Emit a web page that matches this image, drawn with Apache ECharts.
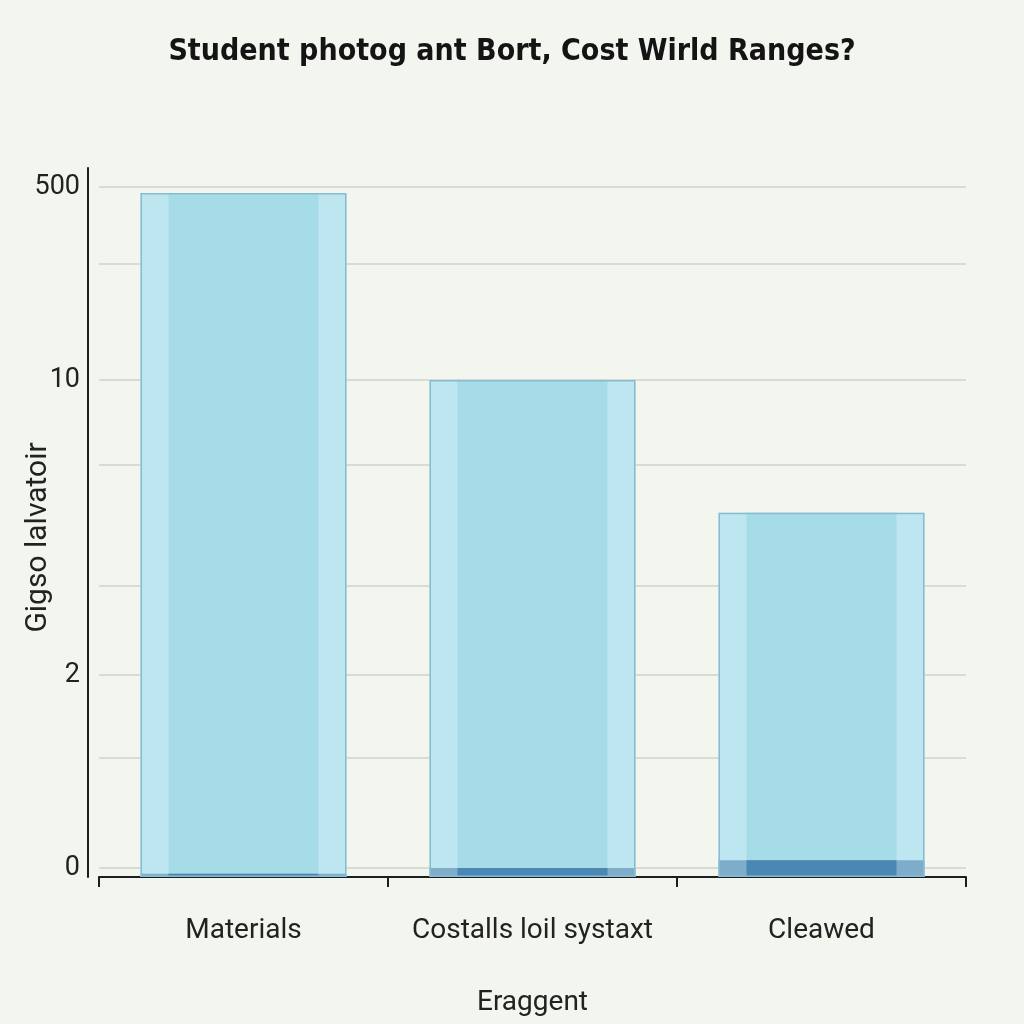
<!DOCTYPE html>
<html>
<head>
<meta charset="utf-8">
<script src="https://cdn.jsdelivr.net/npm/echarts@6/dist/echarts.min.js"></script>
<style>
html,body{margin:0;padding:0;background:#f2f6ee;}
#chart{width:1024px;height:1024px;}
</style>
</head>
<body>
<div id="chart"></div>
<script>
// ---- data ----
const categories = ['Materials', 'Costalls loil systaxt', 'Cleawed'];
const totalValues = [485, 10, 6.4];       // bar tops, in axis value units
const baseValues = [-0.06, 0, 0.08];      // dark base segment tops
const tickValues = [0, 2, 10, 500];       // labelled y ticks
const titleText = 'Student photog ant Bort, Cost Wirld Ranges?';
const yName = 'Gigso lalvatoir';
const xName = 'Eraggent';

// ---- irregular (piecewise) y scale: axis levels for each labelled tick ----
const tickLevels = [9, 202, 497, 690];
const minorGridLevels = [119, 291, 412, 613];
function toLevel(v) {
  let i = 0;
  while (i < tickValues.length - 2 && v > tickValues[i + 1]) i++;
  const v0 = tickValues[i], v1 = tickValues[i + 1];
  const l0 = tickLevels[i], l1 = tickLevels[i + 1];
  return l0 + (v - v0) / (v1 - v0) * (l1 - l0);
}
function labelFor(level) {
  const idx = tickLevels.indexOf(level);
  return idx >= 0 ? String(tickValues[idx]) : '';
}

const chart = echarts.init(document.getElementById('chart'));
const gridLevels = tickLevels.concat(minorGridLevels);
const axisFont = 'Roboto, sans-serif';

chart.setOption({
  backgroundColor: '#f2f6ee',
  animation: false,
  title: {
    text: titleText,
    left: 'center',
    top: 32,
    textStyle: {fontFamily: '"DejaVu Sans Condensed", sans-serif', fontWeight: 'bold', fontSize: 30, color: '#141414'}
  },
  grid: {left: 99, right: 58, top: 168, bottom: 147, containLabel: false, outerBoundsMode: 'none'},
  xAxis: [{
    type: 'category',
    data: categories,
    name: xName,
    nameLocation: 'middle',
    nameGap: 112,
    nameTextStyle: {fontFamily: axisFont, fontSize: 28, color: '#222'},
    axisLine: {lineStyle: {color: '#1e1e1e', width: 2}},
    axisTick: {show: true, length: 10, lineStyle: {color: '#1e1e1e', width: 2}},
    axisLabel: {interval: 0, fontFamily: axisFont, fontSize: 28, color: '#222', margin: 40},
    splitLine: {show: false}
  }, {
    type: 'category',
    data: categories,
    show: false
  }],
  yAxis: {
    type: 'value',
    min: 0,
    max: 709,
    offset: 11,
    name: yName,
    nameLocation: 'middle',
    nameGap: 50,
    nameMoveOverlap: false,
    nameTextStyle: {fontFamily: axisFont, fontSize: 30, color: '#222', verticalAlign: 'middle', padding: [0, 30, 0, 0]},
    nameRotate: 90,
    axisLine: {show: true, lineStyle: {color: '#1e1e1e', width: 2}},
    axisTick: {show: false},
    splitLine: {show: false},
    axisLabel: {
      customValues: tickLevels,
      formatter: labelFor,
      fontFamily: axisFont, fontSize: 27, color: '#222', margin: 8
    }
  },
  series: [
    {
      type: 'line', data: [], z: 1, silent: true,
      markLine: {
        silent: true, symbol: 'none', z: 1,
        label: {show: false},
        lineStyle: {color: '#d7dcd4', width: 2, type: 'solid'},
        data: gridLevels.map(l => ({yAxis: l}))
      }
    },
    {
      name: 'outer', type: 'bar', xAxisIndex: 0, barWidth: 206, barGap: '-100%', z: 3,
      data: totalValues.map(toLevel),
      itemStyle: {color: '#bee6f1'}
    },
    {
      name: 'inner', type: 'bar', xAxisIndex: 1, barWidth: 150, barGap: '-100%', z: 3,
      data: totalValues.map(toLevel),
      itemStyle: {color: '#a6dce8'}
    },
    {
      name: 'baseOuter', type: 'bar', xAxisIndex: 0, barWidth: 206, barGap: '-100%', z: 3,
      data: baseValues.map(toLevel),
      itemStyle: {color: '#7eadcc'}
    },
    {
      name: 'baseInner', type: 'bar', xAxisIndex: 1, barWidth: 150, barGap: '-100%', z: 3,
      data: baseValues.map(toLevel),
      itemStyle: {color: '#4a87b4'}
    },
    {
      name: 'outline', type: 'bar', xAxisIndex: 0, barWidth: 206, barGap: '-100%', z: 4,
      data: totalValues.map(toLevel),
      itemStyle: {color: 'rgba(0,0,0,0)', borderColor: '#86bccf', borderWidth: 1.5}
    }
  ]
});
</script>
</body>
</html>
